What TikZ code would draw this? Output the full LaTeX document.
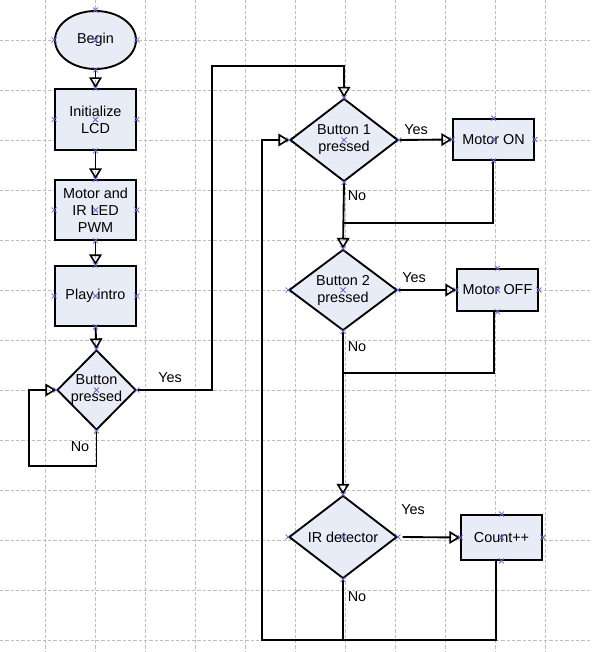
\documentclass[tikz,border=0pt]{standalone}
\usepackage{fontspec}
\setmainfont{Liberation Sans}
\usetikzlibrary{shapes.geometric,arrows.meta,calc}
\definecolor{boxfill}{HTML}{E8ECF6}
\definecolor{gridc}{HTML}{BDBDBD}
\definecolor{markc}{HTML}{6A6AC8}
\tikzset{
  every node/.style={font=\fontsize{10.8pt}{12.8pt}\selectfont},
  shp/.style={draw=black, line width=1.4pt, fill=boxfill, inner sep=0pt},
  procbox/.style={shp, rectangle, minimum width=60.75pt, align=center},
  dia/.style={shp, diamond},
  term/.style={shp, ellipse},
  txt/.style={align=center, inner sep=0pt},
  lab/.style={inner sep=0pt},
  conn/.style={draw=black, line width=1.4pt},
  arr/.style={conn, -{Triangle[open, length=8pt, width=9.5pt, line width=1.2pt]}},
  gridl/.style={draw=gridc, line width=0.6pt, dash pattern=on 2.5pt off 1.5pt},
  xm/.style={draw=markc, line width=0.6pt}
}
\newcommand{\xmk}[1]{\draw[xm] ($(#1)+(-2.5,-2.5)$) -- ($(#1)+(2.5,2.5)$) ($(#1)+(-2.5,2.5)$) -- ($(#1)+(2.5,-2.5)$);}
\begin{document}
\begin{tikzpicture}[x=0.75pt, y=-0.75pt]
\useasboundingbox (0,0) rectangle (592,652);
\fill[white] (0,0) rectangle (592,652);
% grid
\foreach \gx in {45,95,...,545} \draw[gridl] (\gx,0) -- (\gx,652);
\foreach \gy in {40,90,...,640} \draw[gridl] (0,\gy) -- (592,\gy);

% left column
\node[term, minimum width=60.75pt, minimum height=43.5pt] (begin) at (95.5,40) {Begin};
\node[procbox, minimum height=45.75pt] (init) at (95.5,119.5) {Initialize\\LCD};
\node[procbox, minimum height=45pt] (mir) at (95.5,210) {Motor and\\IR LED\\PWM};
\node[procbox, minimum height=45pt] (play) at (95.5,296) {Play intro};
\node[dia, minimum width=59.25pt, minimum height=60pt] (bp) at (96.5,390) {};
\node[txt] (bpt) at (bp.center) {Button\\pressed};

% right column
\node[dia, minimum width=81pt, minimum height=62.25pt] (b1) at (344,140) {};
\node[txt] (b1t) at (b1.center) {Button 1\\pressed};
\node[procbox, minimum height=30.75pt] (mon) at (493.5,139.5) {Motor ON};
\node[dia, minimum width=81pt, minimum height=60.75pt] (b2) at (343,290) {};
\node[txt] (b2t) at (b2.center) {Button 2\\pressed};
\node[procbox, minimum height=31.5pt] (moff) at (497.5,290) {Motor OFF};
\node[dia, minimum width=81pt, minimum height=62.25pt] (ir) at (343,537) {};
\node[txt] (irt) at (ir.center) {IR detector};
\node[procbox, minimum height=33.75pt] (cnt) at (501.5,537.5) {Count++};

% helper coordinates
\coordinate (c1) at (29,466);
\coordinate (c2) at (212,66);
\coordinate (c3) at (344,223);
\coordinate (c4) at (344,373);
\coordinate (c5) at (262,640);

% connectors
\draw[arr] (begin.south) -- (init.north);
\draw[arr] (init.south) -- (mir.north);
\draw[arr] (mir.south) -- (play.north);
\draw[arr] (play.south) -- (bp.north);
\draw[arr] (bp.south) |- (c1) |- (bp.west);
\draw[arr] (bp.east) -| (c2) -| (b1.north);
\draw[arr] (b1.east) -- (mon.west);
\draw[conn] ([xshift=-0.4pt]mon.south) |- (c3);
\draw[arr] (b1.south) -- (b2.north);
\draw[arr] (b2.east) -- (moff.west);
\draw[conn] ([xshift=-2.6pt]moff.south) |- (c4);
\draw[arr] (b2.south) -- (ir.north);
\draw[arr] ([xshift=3.5pt]ir.east) -- (cnt.west);
\draw[arr] ([xshift=-4pt]cnt.south) |- (c5) |- (b1.west);
\draw[conn] (ir.south) -- (ir.south |- c5);

% labels
\node[lab] (l1) at (170,378) {Yes};
\node[lab] (l2) at (80,447) {No};
\node[lab] (l3) at (416,130) {Yes};
\node[lab] (l4) at (357,196) {No};
\node[lab] (l5) at (414,278) {Yes};
\node[lab] (l6) at (357,347) {No};
\node[lab] (l7) at (413,510) {Yes};
\node[lab] (l8) at (357,597) {No};

% connection point markers
\foreach \n in {begin,init,mir,play,bp,b1,mon,b2,moff,ir,cnt}{
  \foreach \a in {center,north,south,east,west}{
    \xmk{\n.\a}
  }
}
\end{tikzpicture}
\end{document}
